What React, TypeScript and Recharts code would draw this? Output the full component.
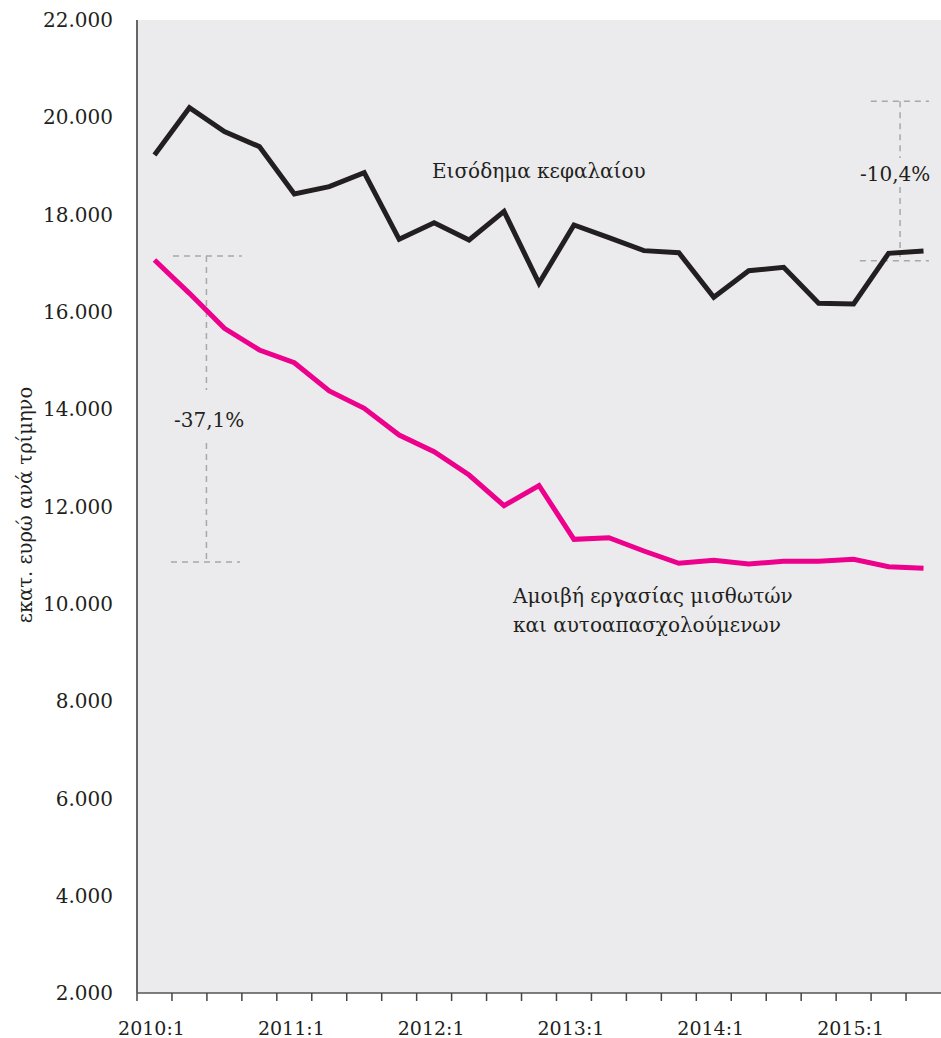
import React from 'react';
import { LineChart, Line, XAxis, YAxis, CartesianGrid, ReferenceLine, Customized } from 'recharts';

const quarters = [
  '2010:1', '2010:2', '2010:3', '2010:4',
  '2011:1', '2011:2', '2011:3', '2011:4',
  '2012:1', '2012:2', '2012:3', '2012:4',
  '2013:1', '2013:2', '2013:3', '2013:4',
  '2014:1', '2014:2', '2014:3', '2014:4',
  '2015:1', '2015:2', '2015:3',
];

const capitalIncome = [
  19225, 20198, 19705, 19397,
  18423, 18574, 18862, 17492,
  17834, 17478, 18065, 16588,
  17786, 17526, 17259, 17217,
  16300, 16847, 16917, 16176,
  16162, 17204, 17252,
];

const laborIncome = [
  17067, 16382, 15662, 15217,
  14956, 14374, 14018, 13470,
  13127, 12647, 12017, 12432,
  11325, 11359, 11085, 10832,
  10894, 10818, 10874, 10874,
  10915, 10762, 10729,
];

const yTicks = [2000, 4000, 6000, 8000, 10000, 12000, 14000, 16000, 18000, 20000, 22000];

const data = quarters.map((q, i) => ({ q, capital: capitalIncome[i], labor: laborIncome[i] }));

const W = 941;
const H = 1038;
const X_AXIS_H = 45;
const MARGIN = { top: 20, right: 0, bottom: 0, left: 0 };
const Y_AXIS_W = 137;
const BAND = (W - Y_AXIS_W - MARGIN.right) / quarters.length;
const FONT = '"DejaVu Serif", serif';
const TEXT = '#231f20';
const DASH = '#a8a8a8';

const fmt = (v: number) => `${Math.floor(v / 1000)}.${String(v % 1000).padStart(3, '0')}`;

const XTick = (props: any) => {
  const { x, y, payload, index } = props;
  const bx = x - BAND / 2;
  return (
    <g>
      <line x1={bx} y1={y} x2={bx} y2={y + 8} stroke="#444" strokeWidth={1.5} />
      {index % 4 === 0 && (
        <text x={x - 3} y={y + 42} textAnchor="middle" fontFamily={FONT} fontSize={19} fill={TEXT}>
          {payload.value}
        </text>
      )}
    </g>
  );
};

const Annotations = () => (
  <g fontFamily={FONT} fill={TEXT}>
    <text x={432} y={178} fontSize={20}>Εισόδημα κεφαλαίου</text>
    <text x={860} y={181} fontSize={20}>-10,4%</text>
    <text x={174} y={427} fontSize={20}>-37,1%</text>
    <text x={513} y={603} fontSize={20}>Αμοιβή εργασίας μισθωτών</text>
    <text x={513} y={632} fontSize={20}>και αυτοαπασχολούμενων</text>
    <text
      x={25}
      y={505}
      fontSize={19.5}
      textAnchor="middle"
      dominantBaseline="central"
      transform="rotate(-90 25 505)"
    >
      εκατ. ευρώ ανά τρίμηνο
    </text>
  </g>
);

const dashProps = { stroke: DASH, strokeWidth: 1.5, strokeDasharray: '6 5', xAxisId: 'n', ifOverflow: 'visible' as const };

export default function App() {
  return (
    <div style={{ position: 'absolute', left: 0, top: 0, width: W, height: H, background: '#fff' }}>
      <LineChart width={W} height={H} data={data} margin={MARGIN}>
        <CartesianGrid fill="#ebebed" stroke="none" horizontal={false} vertical={false} />
        <XAxis
          dataKey="q"
          scale="band"
          height={X_AXIS_H}
          interval={0}
          tickSize={0}
          tickMargin={0}
          tickLine={false}
          axisLine={{ stroke: '#555', strokeWidth: 1.5 }}
          tick={<XTick />}
          padding={{ left: 0, right: 0 }}
        />
        <XAxis
          xAxisId="n"
          type="number"
          scale="linear"
          domain={[0, 22]}
          allowDataOverflow
          padding={{ left: 0, right: 0 }}
          hide
          height={0}
        />
        <YAxis
          width={Y_AXIS_W}
          domain={[2000, 22000]}
          ticks={yTicks}
          tickFormatter={fmt}
          tickSize={0}
          tickMargin={24}
          tickLine={false}
          axisLine={{ stroke: '#666', strokeWidth: 2 }}
          tick={{ fontFamily: FONT, fontSize: 20, fill: TEXT }}
        />
        {/* -37,1% bracket */}
        <ReferenceLine {...dashProps} segment={[{ x: 0.985, y: 17149 }, { x: 2.87, y: 17149 }]} />
        <ReferenceLine {...dashProps} segment={[{ x: 1.9, y: 17149 }, { x: 1.9, y: 14395 }]} />
        <ReferenceLine {...dashProps} segment={[{ x: 1.9, y: 13305 }, { x: 1.9, y: 10859 }]} />
        <ReferenceLine {...dashProps} segment={[{ x: 0.93, y: 10859 }, { x: 2.82, y: 10859 }]} />
        {/* -10,4% bracket */}
        <ReferenceLine {...dashProps} segment={[{ x: 20.08, y: 20329 }, { x: 21.67, y: 20329 }]} />
        <ReferenceLine {...dashProps} segment={[{ x: 20.88, y: 20329 }, { x: 20.88, y: 19163 }]} />
        <ReferenceLine {...dashProps} segment={[{ x: 20.88, y: 18567 }, { x: 20.88, y: 17129 }]} />
        <ReferenceLine {...dashProps} segment={[{ x: 19.78, y: 17052 }, { x: 21.67, y: 17052 }]} />
        <Line
          dataKey="capital"
          stroke="#231f20"
          strokeWidth={5}
          dot={false}
          activeDot={false}
          isAnimationActive={false}
        />
        <Line
          dataKey="labor"
          stroke="#ec008c"
          strokeWidth={5}
          dot={false}
          activeDot={false}
          isAnimationActive={false}
        />
        <Customized component={Annotations} />
      </LineChart>
    </div>
  );
}
